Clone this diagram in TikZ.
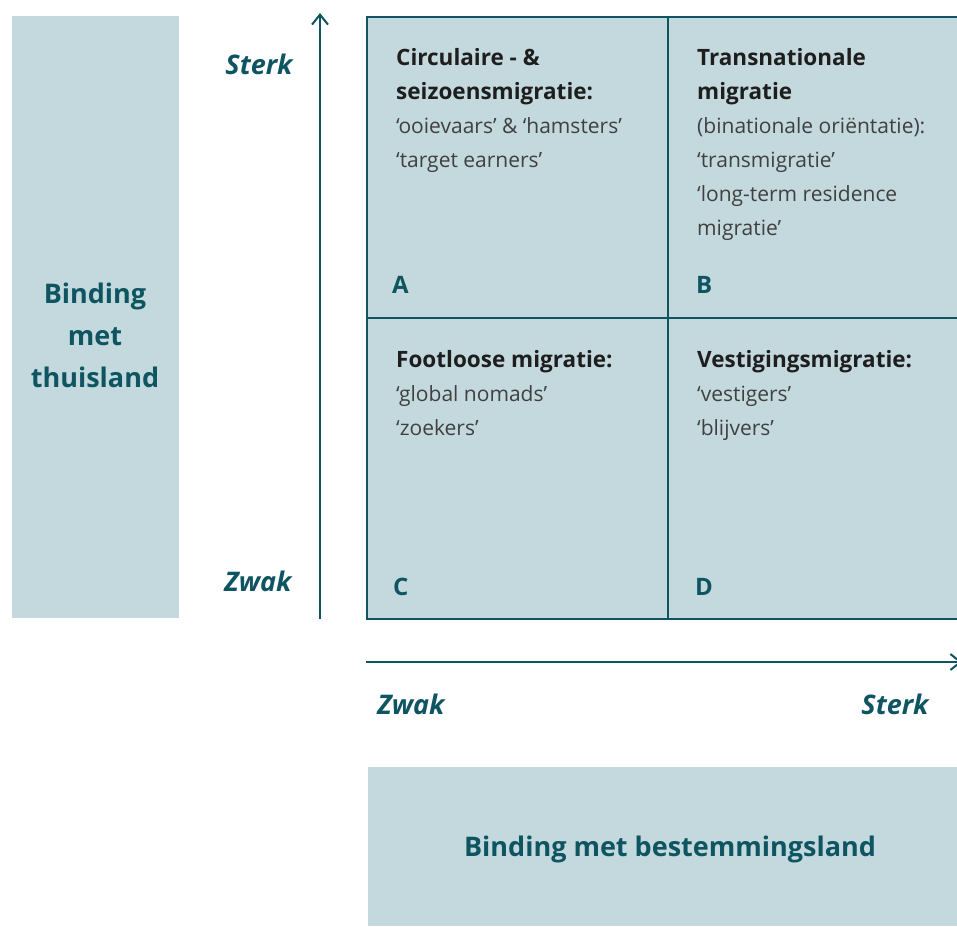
\documentclass[tikz,border=0pt]{standalone}
\usepackage{fontspec}
\setmainfont{Open Sans}
\usetikzlibrary{arrows.meta}
\definecolor{fillc}{HTML}{C3D9DE}
\definecolor{teal}{HTML}{0E5561}
\definecolor{headc}{HTML}{1E1E1E}
\definecolor{bodyc}{HTML}{404040}
\tikzset{
  cell/.style={draw=teal, line width=2.2pt, fill=fillc},
  panel/.style={fill=fillc, draw=none},
  celltext/.style={anchor=north west, inner sep=0pt, align=left, text=bodyc, font=\fontsize{21}{34}\selectfont},
  letter/.style={anchor=base west, inner sep=0pt, text=teal, font=\fontsize{24}{26}\selectfont\bfseries},
  axislab/.style={inner sep=0pt, text=teal, font=\fontsize{27}{30}\selectfont\bfseries\itshape},
  bigtext/.style={inner sep=0pt, align=center, text=teal, font=\fontsize{27}{42}\selectfont\bfseries},
  axis/.style={draw=teal, line width=2pt, -{Straight Barb[length=10pt,width=16pt,line width=2pt]}}
}
\newcommand{\hd}[1]{{\color{headc}\fontsize{22.5}{34}\selectfont\bfseries #1}}
\begin{document}
\begin{tikzpicture}[x=1pt,y=-1pt]
\useasboundingbox (0,0) rectangle (957,926);
\clip (0,0) rectangle (957,926);
% left panel
\node[panel, minimum width=167pt, minimum height=602pt, anchor=north west, inner sep=0pt] (lp) at (12,16) {};
\node[bigtext] (lpt) at (95,335) {Binding\\met\\thuisland};
% bottom panel
\node[panel, minimum width=620pt, minimum height=159pt, anchor=north west, inner sep=0pt] (bp) at (368,767) {};
\node[bigtext] (bpt) at (670,849) {Binding met bestemmingsland};
% grid cells
\node[cell, minimum width=301pt, minimum height=301pt, anchor=north west, inner sep=0pt] (A) at (366,16) {};
\node[cell, minimum width=301pt, minimum height=301pt, anchor=north west, inner sep=0pt] (B) at (667,16) {};
\node[cell, minimum width=301pt, minimum height=301pt, anchor=north west, inner sep=0pt] (C) at (366,317) {};
\node[cell, minimum width=301pt, minimum height=301pt, anchor=north west, inner sep=0pt] (D) at (667,317) {};
% cell texts
\node[celltext] (ta) at (396,48) {\hd{Circulaire - \&}\\\hd{seizoensmigratie:}\\‘ooievaars’ \& ‘hamsters’\\‘target earners’};
\node[celltext] (tb) at (697,48) {\hd{Transnationale}\\\hd{migratie}\\(binationale oriëntatie):\\‘transmigratie’\\‘long-term residence\\migratie’};
\node[celltext] (tc) at (396,350) {\hd{Footloose migratie:}\\‘global nomads’\\‘zoekers’};
\node[celltext] (td) at (697,350) {\hd{Vestigingsmigratie:}\\‘vestigers’\\‘blijvers’};
\node[letter] (la) at (392,293) {A};
\node[letter] (lb) at (696,293) {B};
\node[letter] (lc) at (393,595) {C};
\node[letter] (ld) at (695,595) {D};
% axes
\coordinate (vs) at (320,619);
\coordinate (ve) at (320,13);
\draw[axis] (vs) -- (ve);
\coordinate (hs) at (366,662);
\coordinate (he) at (962,662);
\draw[axis] (hs) -- (he);
\node[axislab] (vst) at (259,64) {Sterk};
\node[axislab] (vzw) at (258,581) {Zwak};
\node[axislab] (hzw) at (411,704) {Zwak};
\node[axislab] (hst) at (895,704) {Sterk};
\end{tikzpicture}
\end{document}
